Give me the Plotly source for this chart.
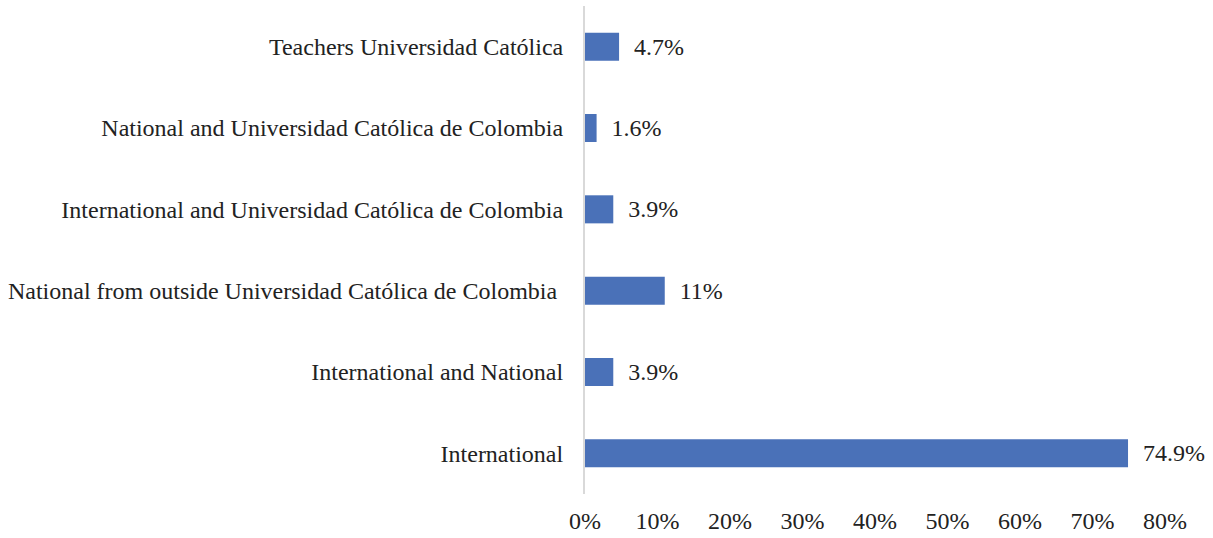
import plotly.graph_objects as go

categories = [
    "International",
    "International and National",
    "National from outside Universidad Católica de Colombia\u00a0",
    "International and Universidad Católica de Colombia",
    "National and Universidad Católica de Colombia",
    "Teachers Universidad Católica",
]
values = [0.749, 0.039, 0.11, 0.039, 0.016, 0.047]
labels = ["74.9%", "3.9%", "11%", "3.9%", "1.6%", "4.7%"]

FONT = "Liberation Serif, Times New Roman, serif"

fig = go.Figure(go.Bar(
    y=categories, x=values, orientation="h",
    marker=dict(color="#4A71B8", line=dict(width=0)),
    text=["  " + t for t in labels], textposition="outside",
    textfont=dict(family=FONT, size=24, color="#222"),
    cliponaxis=False,
))

fig.update_layout(
    width=1213, height=538,
    margin=dict(l=585, r=48, t=6, b=44),
    paper_bgcolor="white", plot_bgcolor="white",
    bargap=0.655,
    showlegend=False,
    font=dict(family=FONT, size=24, color="#222"),
    xaxis=dict(range=[0, 0.8], tickvals=[0, 0.1, 0.2, 0.3, 0.4, 0.5, 0.6, 0.7, 0.8],
               tickformat=".0%", showgrid=False, zeroline=False, showline=False,
               ticks="", ticklabelstandoff=10, automargin=False),
    yaxis=dict(showgrid=False, zeroline=False, showline=True, linecolor="#d9d9d9", linewidth=2,
               ticks="", ticklabelstandoff=15, automargin=False),
)

fig.write_html("out.html", config={"displayModeBar": False},
               post_script="document.body.style.margin='0';")
